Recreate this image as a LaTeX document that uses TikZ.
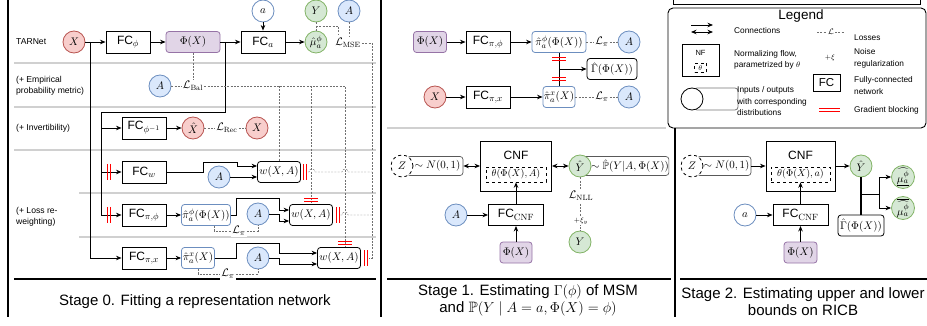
\documentclass[tikz,border=0pt]{standalone}
\usepackage{amsmath,amssymb}
\usepackage{fontspec}
\setsansfont{Liberation Sans}
\usetikzlibrary{arrows.meta}
\DeclareMathSizes{10.5}{10.5}{7.6}{5.6}
\DeclareMathSizes{10}{10}{7.3}{5.3}
\DeclareMathSizes{12}{12}{9}{7}
\DeclareMathSizes{15}{15}{10.5}{7.5}
\definecolor{rfill}{HTML}{F8CECC}
\definecolor{rdraw}{HTML}{B85450}
\definecolor{bfill}{HTML}{DAE8FC}
\definecolor{bdraw}{HTML}{6C8EBF}
\definecolor{gfill}{HTML}{D5E8D4}
\definecolor{gdraw}{HTML}{82B366}
\definecolor{pfill}{HTML}{E1D5E7}
\definecolor{pdraw}{HTML}{9673A6}
\definecolor{sepgray}{HTML}{D0D0D0}
\definecolor{lossgray}{HTML}{707070}
\definecolor{gbred}{HTML}{FF0000}
\newcommand\mathsz{\fontsize{10.5}{12.5}\selectfont}
\newcommand\smathsz{\fontsize{10}{12}\selectfont}
\newcommand\fcsz{\sffamily\fontsize{12}{14}\selectfont}
\newcommand\rowsz{\sffamily\fontsize{8.6}{10.6}\selectfont}
\newcommand\legsz{\sffamily\fontsize{8.3}{11.5}\selectfont}
\newcommand\ttlsz{\sffamily\fontsize{15}{17}\selectfont}
\begin{document}
\begin{tikzpicture}[x=1pt,y=-1pt,
  xarr/.style={-{Stealth[length=5.5pt,width=4.5pt]}, line width=0.8pt},
  xdarr/.style={{Stealth[length=5.5pt,width=4.5pt]}-{Stealth[length=5.5pt,width=4.5pt]}, line width=0.8pt},
  xln/.style={line width=0.8pt},
  xloss/.style={draw=lossgray, line width=0.45pt, dash pattern=on 2pt off 1.3pt},
  xcirc/.style={circle, minimum size=22pt, inner sep=0pt, line width=0.8pt, font=\mathsz},
  redc/.style={xcirc, draw=rdraw, fill=rfill},
  bluec/.style={xcirc, draw=bdraw, fill=bfill},
  greenc/.style={xcirc, draw=gdraw, fill=gfill},
  whitec/.style={xcirc, draw=bdraw, fill=white},
  zc/.style={xcirc, draw=black, fill=white, dashed},
  fcbox/.style={draw, fill=white, line width=0.9pt, minimum width=44pt, minimum height=22pt, inner sep=0pt, font=\fcsz},
  purpbox/.style={draw=pdraw, fill=pfill, rounded corners=3pt, line width=0.8pt, minimum height=21pt, inner sep=0pt, font=\mathsz},
  bluebox/.style={draw=bdraw, fill=white, rounded corners=3pt, line width=0.8pt, minimum height=21pt, inner sep=0pt, font=\mathsz},
  blackbox/.style={draw=black, fill=white, rounded corners=3pt, line width=0.8pt, minimum height=21pt, inner sep=0pt, font=\mathsz},
  distbox/.style={draw=black!65, fill=white, rounded corners=3pt, line width=0.7pt, minimum height=19pt, inner sep=0pt, font=\mathsz},
  lossl/.style={fill=white, inner sep=1pt, font=\mathsz},
  sepline/.style={draw=sepgray, line width=1.3pt},
  thickl/.style={line width=1.8pt},
  rowl/.style={anchor=west, align=left, font=\rowsz, inner sep=0pt},
  legl/.style={anchor=west, align=left, font=\legsz, inner sep=0pt},
  titl/.style={align=center, font=\ttlsz, inner sep=0pt},
  gbline/.style={draw=gbred, line width=0.7pt},
  gbv/.pic={\draw[gbline] (-1.4,-8)--(-1.4,8) (1.4,-8)--(1.4,8);},
  gbh/.pic={\draw[gbline] (-7,-1.4)--(7,-1.4) (-7,1.4)--(7,1.4);},
]
\useasboundingbox (0,0) rectangle (927,326);
% separators
\draw[sepline] (14,63) -- (376,63);
\draw[sepline] (14,107) -- (376,107);
\draw[sepline] (14,150) -- (376,150);
\draw[sepline] (79,193) -- (376,193);
\draw[sepline] (79,237) -- (376,237);
\draw[sepline] (387,128) -- (666,128);
% panel frames
\draw[thickl] (8,0) -- (8,317);
\draw[thickl] (381,0) -- (381,317);
\draw[thickl] (675,128) -- (675,317);
\draw[thickl] (14,279) -- (376,279);
\draw[thickl] (387,279) -- (671,279);
\draw[thickl] (680,279) -- (927,279);
\draw[line width=1pt] (673,0) -- (673,5) -- (920,5) -- (920,0);

% ---------------- Stage 0 ----------------
\node[rowl] (r1) at (16,42) {TARNet};
\node[rowl] (r2) at (16,86) {(+ Empirical\\probability metric)};
\node[rowl] (r3) at (16,128) {(+ Invertibility)};
\node[rowl] (r4) at (16,216.5) {(+ Loss re-\\weighting)};

\node[redc] (X0) at (74,42) {$X$};
\node[fcbox] (FCphi) at (128,42) {FC$_\phi$};
\node[purpbox, minimum width=54pt] (Phi0) at (193,42) {$\Phi(X)$};
\node[fcbox] (FCa) at (263,42) {FC$_a$};
\node[whitec] (a0) at (263,11) {$a$};
\node[greenc] (mu0) at (316,42) {$\hat\mu_a^\phi$};
\node[greenc] (Y0) at (316,11) {$Y$};
\node[bluec] (A0) at (349,11) {$A$};
\node[lossl] (LMSE) at (348,43) {$\mathcal{L}_{\mathrm{MSE}}$};

\node[bluec] (A1) at (160,86) {$A$};
\node[lossl] (LBal) at (193,86) {$\mathcal{L}_{\mathrm{Bal}}$};

\node[fcbox] (FCinv) at (144,128) {FC$_{\phi^{-1}}$};
\node[redc] (Xh) at (193,128) {$\hat X$};
\node[lossl] (LRec) at (227,128) {$\mathcal{L}_{\mathrm{Rec}}$};
\node[redc] (X2) at (257,128) {$X$};

\node[fcbox] (FCw) at (144,172) {FC$_w$};
\node[bluec] (A2) at (219,177) {$A$};
\node[blackbox, minimum width=43pt] (w1) at (279,172) {$w(X,A)$};

\node[fcbox] (FCpp) at (144,215) {FC$_{\pi,\phi}$};
\node[bluebox, minimum width=49pt] (pp0) at (206,215) {$\hat\pi_a^\phi(\Phi(X))$};
\node[bluec] (A3) at (258,214) {$A$};
\node[blackbox, minimum width=43pt] (w2) at (311,215) {$w(X,A)$};

\node[fcbox] (FCpx) at (144,258) {FC$_{\pi,x}$};
\node[bluebox, minimum width=33pt] (px0) at (198,258) {$\hat\pi_a^x(X)$};
\node[bluec] (A4) at (258,258) {$A$};
\node[blackbox, minimum width=43pt] (w3) at (339,258) {$w(X,A)$};
\node[lossl] (Lpi1) at (239,231) {$\mathcal{L}_\pi$};
\node[lossl] (Lpi2) at (228,274) {$\mathcal{L}_\pi$};

\draw[xarr] (X0) -- (FCphi);
\draw[xarr] (FCphi) -- (Phi0);
\draw[xarr] (Phi0) -- (FCa);
\draw[xarr] (a0) -- (FCa);
\draw[xarr] (FCa) -- (mu0);
\coordinate (j1) at (90,42);
\draw[xarr] (j1) |- (FCpx.west);
\coordinate (j2) at (225,42);
\coordinate (j3) at (225,112);
\coordinate (j4) at (101,112);
\draw[xarr] (j2) -- (j3) -- (j4) |- (FCpp.west);
\draw[xarr] (j4 |- FCinv.west) -- (FCinv.west);
\draw[xarr] (j4 |- FCw.west) -- (FCw.west);
\pic at (109,172) {gbv};
\pic at (109,215) {gbv};
\draw[xarr] (FCinv) -- (Xh);
\draw[xloss] (Xh) -- (LRec) -- (X2);

\draw[xarr] (FCw.east) -- (203,172) -- (203,162) -- (237,162) -- (237,166) -- ([yshift=6pt]w1.west);
\draw[xarr] (A2) -- (w1.west |- A2);
\draw[xarr] (FCpp) -- (pp0);
\draw[xarr] (pp0.east) -- (236,215) -- (236,198) -- (279,198) -- (279,210) -- ([yshift=5pt]w2.west);
\draw[xarr] (A3.east) -- (279,214) -- (279,221) -- ([yshift=-6pt]w2.west);
\draw[xarr] (FCpx) -- (px0);
\draw[xarr] (px0.east) -- (236,258) -- (236,243) -- (279,243) -- (279,253) -- ([yshift=5pt]w3.west);
\draw[xarr] (A4.east) -- (279,258) -- (279,264) -- ([yshift=-6pt]w3.west);

\draw[xloss] ([xshift=8pt]pp0.south) |- (Lpi1.west);
\draw[xloss] (Lpi1.east) -| (A3.south);
\draw[xloss] (px0.south) |- (Lpi2.west);
\draw[xloss] (Lpi2.east) -| (A4.south);

\draw[xloss] (Phi0.south) -- (LBal.north);
\draw[xloss] (A1) -- (LBal);
\draw[xloss] (LBal.east) -- (345,86) -- ([xshift=6pt]w3.north);
\draw[xloss] (w1.north |- LBal.east) -- (w1.north);
\draw[xloss] (w2.north |- LBal.east) -- (w2.north);
\pic at (311,200) {gbh};
\pic at (345,243) {gbh};

\draw[xloss] (Y0) -- (mu0);
\draw[xloss] (316,26) -- (338,26) -- (338,35);
\draw[xloss] (A0.south) -- (A0.south |- LMSE.north);
\draw[xloss] (LMSE.east) -- (372,43) -- (372,258) -- ([xshift=8pt]w3.east);
\pic at (305,172) {gbv};
\pic at (337.5,215) {gbv};
\pic at (365.5,258) {gbv};
\draw[xloss] ([xshift=7pt]w1.east) -- (309,172) arc[start angle=180,end angle=360,radius=3] -- (342,172) arc[start angle=180,end angle=360,radius=3] -- (372,172);
\draw[xloss] ([xshift=7.5pt]w2.east) -- (342,215) arc[start angle=180,end angle=360,radius=3] -- (372,215);

\node[titl] (T0) at (195,302) {Stage 0. Fitting a representation network};

% ---------------- Stage 1 ----------------
\node[purpbox, minimum width=33pt] (Phi1) at (430,42) {$\Phi(X)$};
\node[fcbox] (FCpp1) at (488,42) {FC$_{\pi,\phi}$};
\node[bluebox, minimum width=54pt] (pp1) at (559,42) {$\hat\pi_a^\phi(\Phi(X))$};
\node[lossl] (Lpi3) at (602,42) {$\mathcal{L}_\pi$};
\node[bluec] (A5) at (629,42) {$A$};
\node[redc] (X1) at (435,97) {$X$};
\node[fcbox] (FCpx1) at (488,97) {FC$_{\pi,x}$};
\node[bluebox, minimum width=32pt] (px1) at (559,97) {$\hat\pi_a^x(X)$};
\node[lossl] (Lpi4) at (602,97) {$\mathcal{L}_\pi$};
\node[bluec] (A6) at (629,97) {$A$};
\node[blackbox, minimum width=50pt] (Gam1) at (612,69) {$\hat\Gamma(\Phi(X))$};
\draw[xarr] (Phi1) -- (FCpp1);
\draw[xarr] (FCpp1) -- (pp1);
\draw[xloss] (pp1) -- (Lpi3) -- (A5);
\draw[xarr] (X1) -- (FCpx1);
\draw[xarr] (FCpx1) -- (px1);
\draw[xloss] (px1) -- (Lpi4) -- (A6);
\draw[xln] (pp1) -- (px1);
\coordinate (j6) at (559,69);
\draw[xarr] (j6) -- (Gam1);
\pic at (559,59) {gbh};
\pic at (559,79) {gbh};

\node[distbox, minimum width=56pt] (N1) at (435,166) {\hspace{5pt}$\sim N(0,1)$};
\node[zc] (Z1) at (402,166) {$Z$};
\node[draw, line width=0.9pt, minimum width=71pt, minimum height=50pt] (CNF1) at (516,166) {};
\node[font=\fcsz, inner sep=0pt] (CNFt1) at (516,155) {CNF};
\node[draw, dashed, line width=0.6pt, minimum width=60pt, minimum height=15pt, inner sep=0pt, font=\smathsz] (th1) at (516,174.5) {$\theta(\Phi(X),A)$};
\draw[xdarr] (N1) -- (CNF1);
\node[distbox, minimum width=79pt] (P1) at (626,166) {\hspace{8pt}$\sim\hat{\mathbb{P}}(Y|A,\Phi(X))$};
\node[greenc] (Yh1) at (580,166) {$\hat Y$};
\draw[xdarr] (CNF1) -- (Yh1);
\node[greenc] (Y1) at (580,242) {$Y$};
\draw[xloss] (Yh1) -- (Y1);
\node[lossl] (LNLL) at (581,196) {$\mathcal{L}_{\mathrm{NLL}}$};
\node[lossl, font=\fontsize{7.5}{8}\selectfont] (xi1) at (581,221) {$+\xi_y$};
\node[bluec] (A7) at (456,215) {$A$};
\node[fcbox, minimum width=55pt, minimum height=21pt] (FCc1) at (516,215) {FC$_{\mathrm{CNF}}$};
\node[purpbox, minimum width=32pt] (Phi2) at (516,252.5) {$\Phi(X)$};
\draw[xarr] (A7) -- (FCc1);
\draw[xarr] (FCc1) -- (th1);
\draw[xarr] (Phi2) -- (FCc1);
\node[titl] (T1) at (528,300.5) {Stage 1. Estimating $\Gamma(\phi)$ of MSM\\and $\mathbb{P}(Y\mid A=a,\Phi(X)=\phi)$};

% ---------------- Stage 2 ----------------
\node[distbox, minimum width=54pt] (N2) at (724,166) {\hspace{5pt}$\sim N(0,1)$};
\node[zc] (Z2) at (692,166) {$Z$};
\node[draw, line width=0.9pt, minimum width=69pt, minimum height=50pt] (CNF2) at (800.5,166) {};
\node[font=\fcsz, inner sep=0pt] (CNFt2) at (800.5,155) {CNF};
\node[draw, dashed, line width=0.6pt, minimum width=59pt, minimum height=15pt, inner sep=0pt, font=\smathsz] (th2) at (800.5,174.5) {$\theta(\Phi(X),a)$};
\draw[xarr] (N2) -- (CNF2);
\node[greenc] (Yh2) at (861,166) {$\hat Y$};
\draw[xarr] (CNF2) -- (Yh2);
\node[blackbox, minimum width=46pt] (Gam2) at (861,225.5) {$\hat\Gamma(\Phi(X))$};
\node[greenc, minimum size=23pt, font=\mathsz] (muU) at (903,177) {$\underline{\widehat{\mu_a^\phi}}$};
\node[greenc, minimum size=23pt, font=\mathsz] (muL) at (903,208) {$\overline{\widehat{\mu_a^\phi}}$};
\draw[line width=1.1pt] (Yh2) -- (Gam2);
\coordinate (j7) at (861,194);
\coordinate (j8) at (879,194);
\draw[xln] (j7) -- (j8);
\draw[xarr] (j8) |- (muU);
\draw[xarr] (j8) |- (muL);
\node[whitec] (a2) at (745,215) {$a$};
\node[fcbox, minimum width=55pt, minimum height=21pt] (FCc2) at (800.5,215) {FC$_{\mathrm{CNF}}$};
\node[purpbox, minimum width=33pt] (Phi3) at (800.5,252.5) {$\Phi(X)$};
\draw[xarr] (a2) -- (FCc2);
\draw[xarr] (FCc2) -- (th2);
\draw[xarr] (Phi3) -- (FCc2);
\node[titl] (T2) at (803,301.5) {Stage 2. Estimating upper and lower\\bounds on RICB};

% ---------------- Legend ----------------
\node[draw, line width=0.9pt, rounded corners=5pt, minimum width=258pt, minimum height=120pt, inner sep=0pt] (leg) at (797,68) {};
\node[font=\sffamily\fontsize{13.5}{15}\selectfont, inner sep=0pt] (legT) at (801,16) {Legend};
\coordinate (la1) at (691,25); \coordinate (la2) at (713,25);
\draw[xarr] (la1) -- (la2);
\coordinate (lb1) at (691,32); \coordinate (lb2) at (713,32);
\draw[xdarr] (lb1) -- (lb2);
\node[legl] (lt1) at (734,31) {Connections};
\node[lossl, font=\fontsize{8}{9}\selectfont] (lL) at (831,32) {$\mathcal{L}$};
\coordinate (lc1) at (817,32); \coordinate (lc2) at (845,32);
\draw[xloss] (lc1) -- (lL.west);
\draw[xloss] (lL.east) -- (lc2);
\node[legl] (lt2) at (854,38) {Losses};
\node[draw, line width=0.8pt, minimum width=37pt, minimum height=32pt] (lnf) at (700.5,60) {};
\node[font=\sffamily\fontsize{7.5}{8}\selectfont, inner sep=0pt] (lnft) at (700.5,53) {NF};
\node[draw, dashed, line width=0.5pt, minimum width=12pt, minimum height=9pt, inner sep=0pt, font=\fontsize{7}{8}\selectfont] (lth) at (700.5,68) {$\theta$};
\node[legl] (lt3) at (734,60) {Normalizing flow,\\parametrized by $\theta$};
\node[font=\fontsize{7.5}{8}\selectfont, inner sep=0pt] (lxi) at (830,58) {$+\xi$};
\node[legl] (lt4) at (854,58.5) {Noise\\regularization};
\node[draw=black!55, rounded corners=3pt, line width=0.8pt, minimum width=44pt, minimum height=22pt] (ldist) at (716,99) {};
\node[circle, draw, fill=white, line width=0.8pt, minimum size=22pt, inner sep=0pt] (lcirc) at (692,99) {};
\node[legl] (lt5) at (737,101.5) {Inputs / outputs\\with corresponding\\distributions};
\node[draw, line width=0.8pt, minimum width=27pt, minimum height=17pt, inner sep=0pt, font=\sffamily\fontsize{11.5}{12}\selectfont] (lfc) at (826.5,82.5) {FC};
\node[legl] (lt6) at (854,85.5) {Fully-connected\\network};
\draw[gbline, line width=0.9pt] (819,108.8) -- (840,108.8) (819,111.8) -- (840,111.8);
\node[legl] (lt7) at (854,110) {Gradient blocking};
\end{tikzpicture}
\end{document}
